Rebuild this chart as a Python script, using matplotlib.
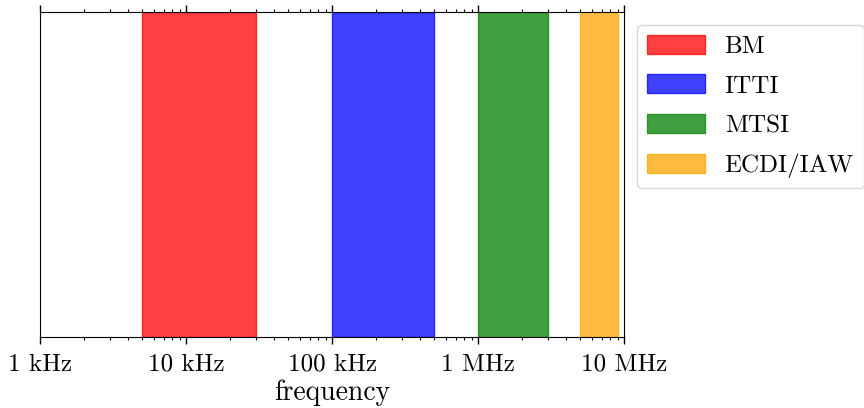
import matplotlib
matplotlib.use('Agg')
import matplotlib.pyplot as plt
from matplotlib.ticker import FixedLocator, FixedFormatter, LogLocator, NullFormatter

plt.rcParams['font.family'] = 'cmr10'
plt.rcParams['mathtext.fontset'] = 'cm'
plt.rcParams['axes.formatter.use_mathtext'] = True

## Frequency ranges of each instability (Hz)
names = ['BM', 'ITTI', 'MTSI', 'ECDI/IAW']
f_low = [5e3, 1e5, 1e6, 5e6]
f_high = [3e4, 5e5, 3e6, 9e6]
colors = ['red', 'blue', 'green', 'orange']

tick_pos = [1e3, 1e4, 1e5, 1e6, 1e7]
tick_labels = ['1 kHz', '10 kHz', '100 kHz', '1 MHz', '10 MHz']

fig = plt.figure(figsize=(8.64, 4.08), dpi=100)
ax = fig.add_axes([0.0465, 0.174, 0.676, 0.797])

for name, lo, hi, c in zip(names, f_low, f_high, colors):
	ax.axvspan(lo, hi, color=c, alpha=0.75, label=name, lw=1)

ax.set_xscale('log')
ax.set_xlim(tick_pos[0], tick_pos[-1])
ax.set_ylim(0, 1)
ax.xaxis.set_major_locator(FixedLocator(tick_pos))
ax.xaxis.set_major_formatter(FixedFormatter(tick_labels))
ax.xaxis.set_minor_locator(LogLocator(base=10, subs=range(2, 10)))
ax.xaxis.set_minor_formatter(NullFormatter())
ax.tick_params(axis='x', which='both', top=True, labelsize=18)
ax.tick_params(axis='x', which='major', length=5, width=1, pad=7)
ax.tick_params(axis='x', which='minor', length=2.5, width=0.8)
ax.set_yticks([])
ax.set_xlabel('frequency', fontsize=20, labelpad=3)

ax.legend(loc='upper left', bbox_to_anchor=(1.022, 0.96), fontsize=18,
	handlelength=2.3, handleheight=0.8, labelspacing=0.65, borderaxespad=0,
	framealpha=1, edgecolor='0.85')

fig.savefig('out.png', dpi=100)
